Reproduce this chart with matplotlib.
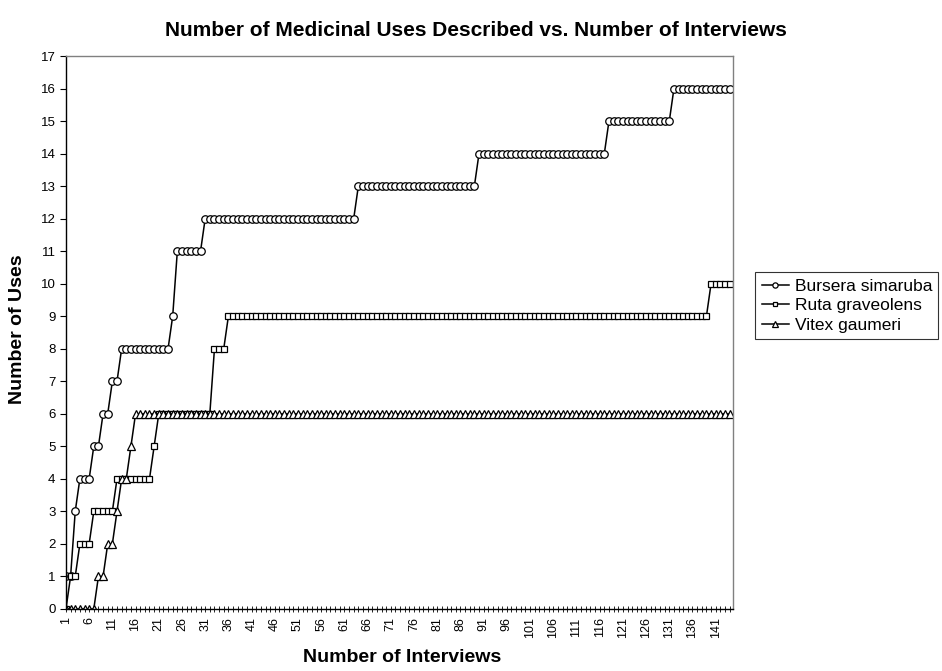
#!/usr/bin/env python3
"""Cumulative medicinal uses recorded per species vs. number of interviews."""

import matplotlib

matplotlib.use("Agg")
import matplotlib.pyplot as plt
import numpy as np
from matplotlib.ticker import FixedLocator, MultipleLocator

plt.rcParams["font.family"] = ["Liberation Sans", "DejaVu Sans"]

# step levels, stored as (level, number of interviews at that level)
bursera_levels = [1, 3, 4, 5, 6, 7, 8, 9, 11, 12, 13, 14, 15, 16]
bursera_runs = [2, 1, 3, 2, 2, 2, 11, 1, 6, 33, 26, 28, 14, 13]

ruta_levels = [0, 1, 2, 3, 4, 5, 6, 8, 9, 10]
ruta_runs = [1, 2, 3, 5, 8, 1, 12, 3, 104, 5]

vitex_levels = [0, 1, 2, 3, 4, 5, 6]
vitex_runs = [7, 2, 2, 1, 2, 1, 129]

series_names = ["Bursera simaruba", "Ruta graveolens", "Vitex gaumeri"]
series_markers = ["o", "s", "^"]

x_tick_labels = list(range(1, 142, 5))


def expand(levels, runs):
    return np.repeat(levels, runs)


def main():
    fig = plt.figure(figsize=(9.42, 6.71), dpi=100)
    ax = fig.add_axes([0.070, 0.0924, 0.708, 0.824])

    data = [
        expand(bursera_levels, bursera_runs),
        expand(ruta_levels, ruta_runs),
        expand(vitex_levels, vitex_runs),
    ]
    sizes = {"o": 5.4, "s": 5.0, "^": 5.6}
    for values, name, marker in zip(data, series_names, series_markers):
        interviews = np.arange(1, len(values) + 1)
        ax.plot(
            interviews,
            values,
            color="black",
            linewidth=1.1,
            marker=marker,
            markersize=sizes[marker],
            markerfacecolor="white",
            markeredgecolor="black",
            markeredgewidth=0.9,
            label=name,
        )

    ax.set_xlim(1, 144.7)
    ax.set_ylim(0, 17)
    ax.yaxis.set_major_locator(MultipleLocator(1))
    ax.xaxis.set_major_locator(FixedLocator(x_tick_labels))
    ax.xaxis.set_minor_locator(MultipleLocator(1))
    ax.set_xticklabels([str(v) for v in x_tick_labels], rotation=90, fontsize=9)
    ax.tick_params(axis="y", labelsize=9.5, direction="out", length=4, width=0.8)
    ax.tick_params(axis="x", which="both", direction="inout", length=5, width=0.6)

    for side in ("left", "bottom"):
        ax.spines[side].set_color("black")
        ax.spines[side].set_linewidth(1.0)
    for side in ("top", "right"):
        ax.spines[side].set_color("#808080")
        ax.spines[side].set_linewidth(1.0)

    fig.text(0.505, 0.955, "Number of Medicinal Uses Described vs. Number of Interviews",
             ha="center", va="center", fontsize=15, weight="bold")
    fig.text(0.427, 0.008, "Number of Interviews", ha="center", va="bottom",
             fontsize=14, weight="bold")
    fig.text(0.019, 0.51, "Number of Uses", ha="center", va="center",
             rotation=90, fontsize=14, weight="bold")

    legend = ax.legend(
        loc="upper left",
        bbox_to_anchor=(0.802, 0.594),
        bbox_transform=fig.transFigure,
        frameon=True,
        fancybox=False,
        fontsize=12.5,
        handlelength=1.6,
        handletextpad=0.3,
        labelspacing=0.25,
        borderpad=0.35,
        borderaxespad=0.0,
        markerscale=0.7,
    )
    legend.get_frame().set_edgecolor("black")
    legend.get_frame().set_linewidth(0.8)

    fig.savefig("out.png", dpi=100, facecolor="white")
    plt.close(fig)


if __name__ == "__main__":
    main()
